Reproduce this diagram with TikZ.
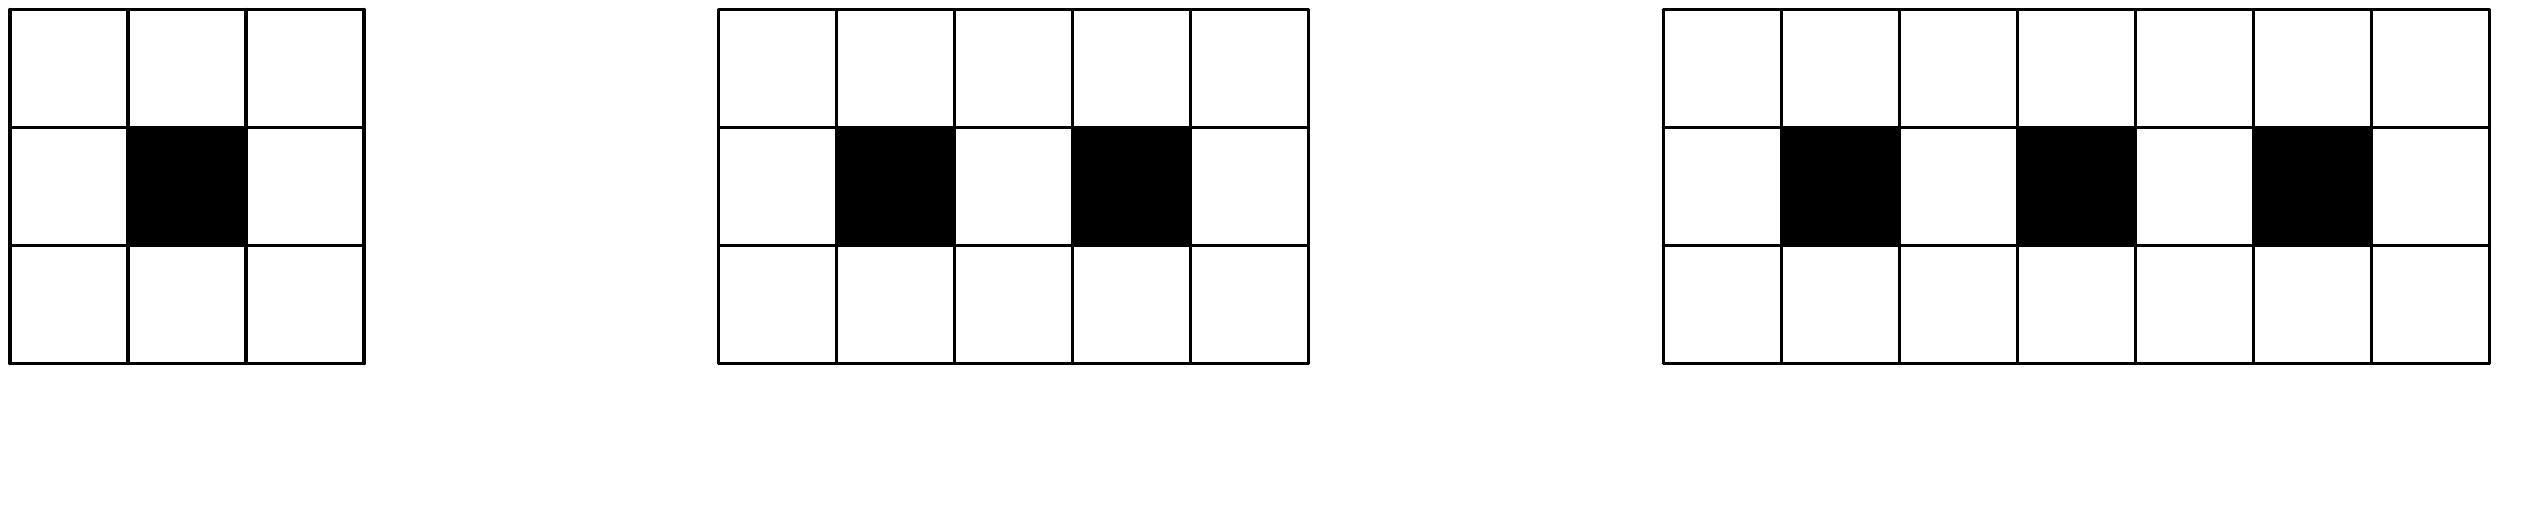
\documentclass[tikz,border=0pt]{standalone}
\usepackage{tikz}

\begin{document}
\begin{tikzpicture}[
  gridline/.style={line width=0.8pt, line cap=round},
  hole/.style={fill=black}
]
  \useasboundingbox (0,0) rectangle (21.466,-4.449);
  % three patterns: 3, 5 and 7 columns, black cells on the middle row
  \foreach \gx/\n/\holes in {0.085/3/{1}, 6.089/5/{1,3}, 14.096/7/{1,3,5}} {
    \begin{scope}[shift={(\gx,-3.081)}]
      \foreach \k in \holes
        \fill[hole] (\k,1) rectangle ++(1,1);
      \draw[gridline] (0,0) grid (\n,3);
    \end{scope}
  }
\end{tikzpicture}
\end{document}
